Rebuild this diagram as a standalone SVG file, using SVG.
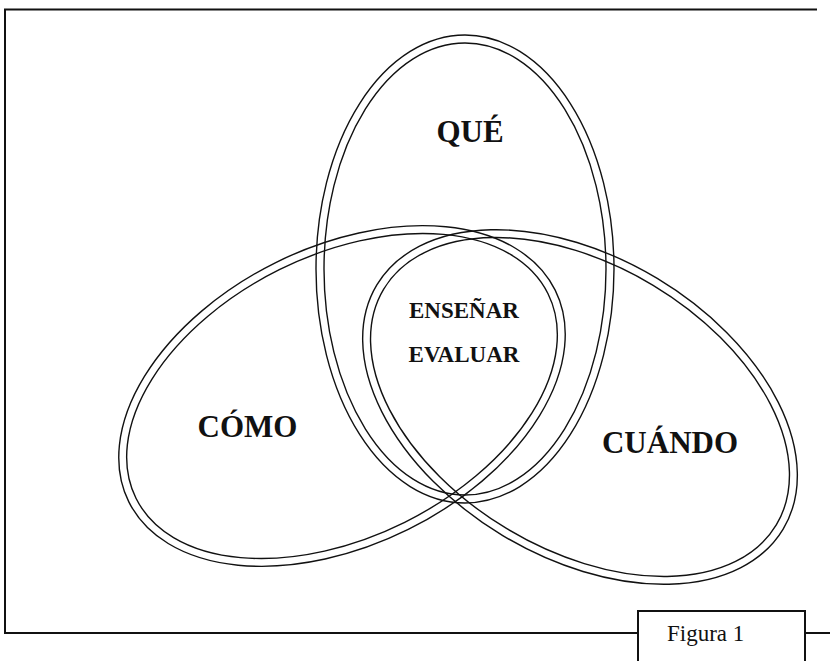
<svg xmlns="http://www.w3.org/2000/svg" width="830" height="661" viewBox="0 0 830 661">
<style>
.frame{fill:none;stroke:#111;stroke-width:2}
.ring{fill:none;stroke:#111;stroke-width:1.4}
.big{font-family:"Liberation Serif","Times New Roman",serif;font-weight:bold;font-size:31px;fill:#111;text-anchor:middle}
.mid{font-family:"Liberation Serif","Times New Roman",serif;font-weight:bold;font-size:23px;fill:#111;text-anchor:middle}
.cap{font-family:"Liberation Serif","Times New Roman",serif;font-size:23px;fill:#111}
</style>
<rect width="830" height="661" fill="#fff"/>
<g id="frame">
<path class="frame" d="M817,9.5 H5 V633 H638 M805,633 H830"/>
</g>
<g id="que">
<ellipse class="ring" cx="465" cy="269" rx="149" ry="234"/>
<ellipse class="ring" cx="465" cy="269" rx="141" ry="226"/>
<text class="big" x="470" y="142">QUÉ</text>
</g>
<g id="como">
<g transform="rotate(-26.4 342 396)">
<ellipse class="ring" cx="342" cy="396" rx="238" ry="149"/>
<ellipse class="ring" cx="342" cy="396" rx="230" ry="141"/>
</g>
<text class="big" x="247.5" y="437">CÓMO</text>
</g>
<g id="cuando">
<g transform="rotate(31 580 407)">
<ellipse class="ring" cx="580" cy="407" rx="237" ry="150"/>
<ellipse class="ring" cx="580" cy="407" rx="229" ry="142"/>
</g>
<text class="big" x="670" y="453">CUÁNDO</text>
</g>
<g id="centro">
<text class="mid" x="464" y="318">ENSEÑAR</text>
<text class="mid" x="464" y="362">EVALUAR</text>
</g>
<g id="figura">
<path class="frame" d="M638,661 V611 H805 V661"/>
<text class="cap" x="667" y="641">Figura 1</text>
</g>
</svg>
